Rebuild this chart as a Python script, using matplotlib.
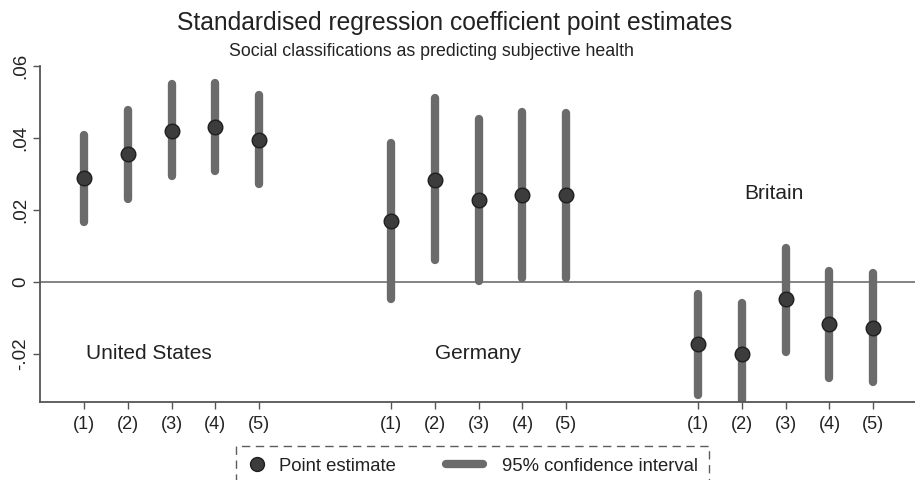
import matplotlib
matplotlib.use("Agg")
import matplotlib.pyplot as plt
from matplotlib.lines import Line2D
from matplotlib.legend_handler import HandlerBase

plt.rcParams["font.family"] = ["Liberation Sans", "DejaVu Sans"]

# x positions of the five models in each country block
positions = [1, 2, 3, 4, 5, 8, 9, 10, 11, 12, 15, 16, 17, 18, 19]
tick_labels = ["(1)", "(2)", "(3)", "(4)", "(5)"] * 3

estimates = [0.0287, 0.0354, 0.0420, 0.0429, 0.0395,
             0.0169, 0.0284, 0.0227, 0.0241, 0.0241,
             -0.0174, -0.0199, -0.0049, -0.0116, -0.0127]
ci_low = [0.0165, 0.0230, 0.0294, 0.0307, 0.0273,
          -0.0048, 0.0060, 0.0002, 0.0011, 0.0012,
          -0.0315, -0.0350, -0.0194, -0.0268, -0.0278]
ci_high = [0.0407, 0.0477, 0.0548, 0.0553, 0.0519,
           0.0385, 0.0511, 0.0451, 0.0472, 0.0469,
           -0.0035, -0.0060, 0.0095, 0.0031, 0.0025]

countries = ["United States", "Germany", "Britain"]
country_xy = [(1.05, -0.0200), (9.0, -0.0200), (16.05, 0.0246)]

yticks = [-0.02, 0, 0.02, 0.04, 0.06]
ytick_labels = ["-.02", "0", ".02", ".04", ".06"]

bar_col = "#6b6b6b"
pt_col = "#3c3c3c"
txt_col = "#222222"


class LongLine(HandlerBase):
    # the CI swatch in the legend is longer than the marker slot
    def create_artists(self, legend, orig_handle, xdescent, ydescent,
                       width, height, fontsize, trans):
        y = height / 2 - ydescent
        ln = Line2D([-xdescent - 1.3 * fontsize, width - xdescent - 0.3 * fontsize],
                    [y, y], color=orig_handle.get_color(), lw=orig_handle.get_linewidth(),
                    solid_capstyle="round", transform=trans)
        return [ln]


fig = plt.figure(figsize=(9.15, 4.8), dpi=100)
ax = fig.add_axes([0.0437, 0.163, 0.9563, 0.7])

ax.axhline(0, color="#7a7a7a", lw=1.3, zorder=1)

for x, lo, hi in zip(positions, ci_low, ci_high):
    ax.plot([x, x], [lo, hi], color=bar_col, lw=6, solid_capstyle="round", zorder=2)
ax.plot(positions, estimates, "o", ms=10.5, color=pt_col, mec="#1e1e1e", mew=1.0, zorder=3)

for name, (cx, cy) in zip(countries, country_xy):
    ax.text(cx, cy, name, fontsize=15, color=txt_col, va="center", ha="left")

ax.set_xlim(0, 19.95)
ax.set_ylim(-0.0333, 0.06)
ax.set_xticks(positions)
ax.set_xticklabels(tick_labels, fontsize=13, color=txt_col)
ax.set_yticks(yticks)
ax.set_yticklabels(ytick_labels, fontsize=13.5, color=txt_col, rotation=90, va="center")

for s in ["top", "right"]:
    ax.spines[s].set_visible(False)
for s in ["left", "bottom"]:
    ax.spines[s].set_color("#555555")
    ax.spines[s].set_linewidth(1.3)
ax.tick_params(axis="both", direction="out", length=5, width=1.0, colors="#555555",
               labelcolor=txt_col)
ax.tick_params(axis="x", pad=5)
ax.tick_params(axis="y", pad=3)

fig.text(0.497, 0.953, "Standardised regression coefficient point estimates",
         ha="center", va="center", fontsize=17.7, color=txt_col)
fig.text(0.472, 0.893, "Social classifications as predicting subjective health",
         ha="center", va="center", fontsize=12.8, color=txt_col)

h_pt = Line2D([], [], marker="o", ls="none", ms=10, color=pt_col, mec="#1e1e1e")
h_ci = Line2D([], [], color=bar_col, lw=6)
leg = fig.legend([h_pt, h_ci], ["Point estimate", "95% confidence interval"],
                 handler_map={h_ci: LongLine()},
                 loc="center", bbox_to_anchor=(0.5165, 0.029), ncol=2,
                 fontsize=13.3, frameon=True, fancybox=False, handlelength=1.0,
                 columnspacing=4.0, handletextpad=0.72, borderpad=0.6)
frame = leg.get_frame()
frame.set_linestyle((0, (6, 4)))
frame.set_edgecolor("#333333")
frame.set_linewidth(1.0)
for t in leg.get_texts():
    t.set_color(txt_col)

fig.savefig("out.png", dpi=100)
